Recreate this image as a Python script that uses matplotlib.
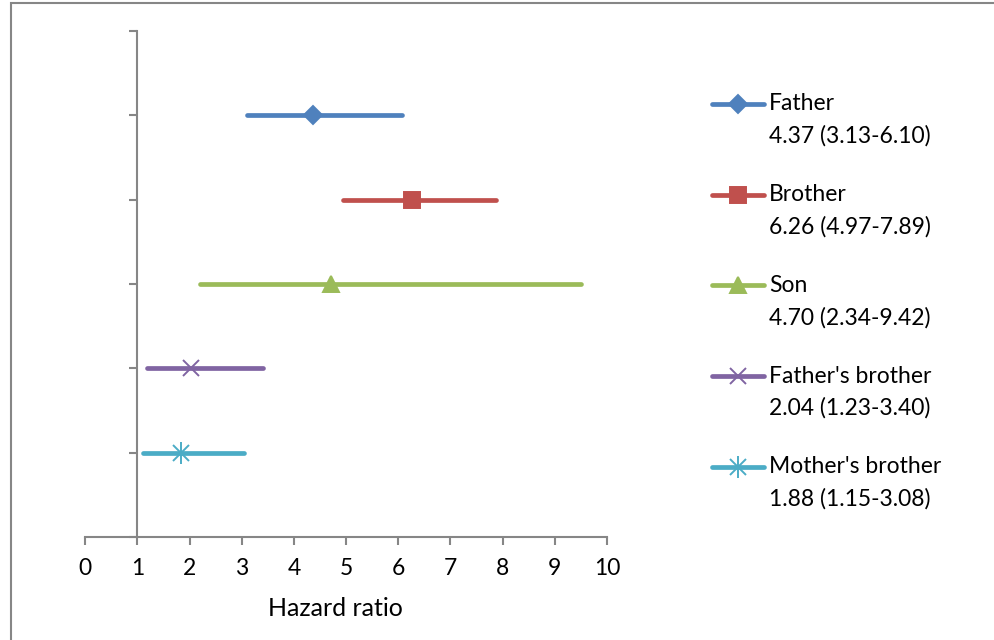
import matplotlib.pyplot as plt
from matplotlib.lines import Line2D
from matplotlib.patches import Rectangle

plt.rcParams['font.family'] = ['Lato', 'DejaVu Sans']

# data
relatives = ["Father", "Brother", "Son", "Father's brother", "Mother's brother"]
hazard = [4.36, 6.26, 4.72, 2.02, 1.84]
ci_low = [3.10, 4.95, 2.21, 1.19, 1.10]
ci_high = [6.08, 7.87, 9.50, 3.40, 3.05]
estimates = ["4.37 (3.13-6.10)", "6.26 (4.97-7.89)", "4.70 (2.34-9.42)",
             "2.04 (1.23-3.40)", "1.88 (1.15-3.08)"]
rows = [5, 4, 3, 2, 1]

colors = ["#4F81BD", "#C0504D", "#9BBB59", "#8064A2", "#4BACC6"]
# excel's "star" marker is an x with a vertical stroke through it
markers = [["D"], ["s"], ["^"], ["x"], ["x", "|"]]
msizes = [9, 11, 11, 11, 11]
grey = "#868686"

fig = plt.figure(figsize=(9.95, 6.4), dpi=100)
ax = fig.add_axes([0.0856, 0.1609, 0.5244, 0.7906])

for i in range(len(relatives)):
    ax.plot([ci_low[i], ci_high[i]], [rows[i], rows[i]], color=colors[i],
            lw=3.4, solid_capstyle='round')
    for m in markers[i]:
        ms = msizes[i] * 1.4 if m == "|" else msizes[i]
        ax.plot(hazard[i], rows[i], marker=m, ms=ms, color=colors[i],
                mec=colors[i], mew=1.4, ls='none')

ax.set_xlim(0, 10)
ax.set_ylim(0, 6)
ax.set_xticks(range(11))
ax.set_yticks(range(7))
ax.set_yticklabels([])
for s in ['top', 'right']:
    ax.spines[s].set_visible(False)
ax.spines['left'].set_position(('data', 1))
for s in ['left', 'bottom']:
    ax.spines[s].set_color(grey)
    ax.spines[s].set_linewidth(1.5)
ax.tick_params(axis='both', direction='out', length=6, width=1.5, color=grey,
               labelsize=16.5, pad=9)
ax.set_xlabel("Hazard ratio", fontsize=18)
ax.xaxis.set_label_coords(0.48, -0.118)

# legend drawn by hand so the handle sits on the first text line
W, H = 995, 640
for i in range(len(relatives)):
    yp = 104 + i * 90.7
    y = 1 - yp / H
    fig.add_artist(Line2D([712 / W, 764 / W], [y, y], color=colors[i], lw=3.4,
                          solid_capstyle='round'))
    for m in markers[i]:
        ms = msizes[i] * 1.4 if m == "|" else msizes[i]
        fig.add_artist(Line2D([738 / W], [y], marker=m, ms=ms, color=colors[i],
                              mec=colors[i], mew=1.4, ls='none'))
    fig.text(769 / W, y, relatives[i], fontsize=16.5, va='center', ha='left')
    fig.text(769 / W, 1 - (yp + 32) / H, estimates[i], fontsize=16.5,
             va='center', ha='left')

# chart area border
fig.add_artist(Rectangle((11 / W, -0.1), 1.2, 1 - 3 / H + 0.1, fill=False,
                         edgecolor=grey, lw=1.5, transform=fig.transFigure))

fig.savefig("out.png", dpi=100)
